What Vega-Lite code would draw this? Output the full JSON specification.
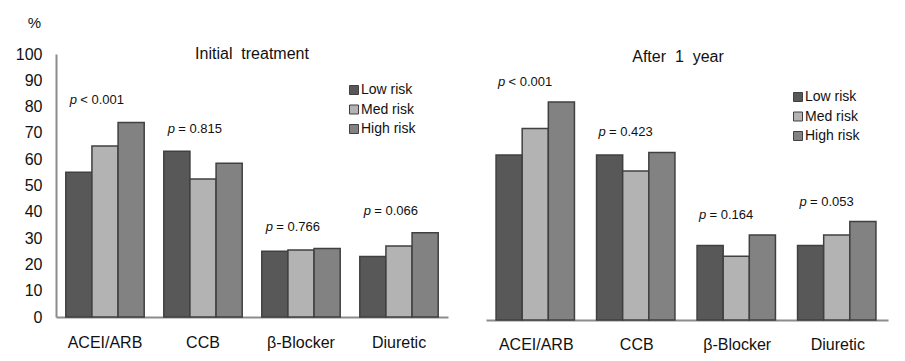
{
  "$schema": "https://vega.github.io/schema/vega-lite/v6.json",
  "background": "white",
  "padding": {"left": 15, "top": 15, "right": 5, "bottom": 5},
  "bounds": "flush",
  "spacing": 38,
  "config": {
    "font": "Liberation Sans",
    "view": {"stroke": null},
    "axis": {"grid": false, "ticks": false, "domainColor": "#8c8c8c", "domainWidth": 2, "labelColor": "#111111", "labelFont": "Liberation Sans"},
    "legend": {"padding": 0}
  },
  "datasets": {
    "init": [
      {"drug": "ACEI/ARB", "risk": "Low risk", "pct": 55, "p": "< 0.001"},
      {"drug": "ACEI/ARB", "risk": "Med risk", "pct": 65, "p": "< 0.001"},
      {"drug": "ACEI/ARB", "risk": "High risk", "pct": 74, "p": "< 0.001"},
      {"drug": "CCB", "risk": "Low risk", "pct": 63, "p": "= 0.815"},
      {"drug": "CCB", "risk": "Med risk", "pct": 52.5, "p": "= 0.815"},
      {"drug": "CCB", "risk": "High risk", "pct": 58.5, "p": "= 0.815"},
      {"drug": "β-Blocker", "risk": "Low risk", "pct": 25, "p": "= 0.766"},
      {"drug": "β-Blocker", "risk": "Med risk", "pct": 25.5, "p": "= 0.766"},
      {"drug": "β-Blocker", "risk": "High risk", "pct": 26, "p": "= 0.766"},
      {"drug": "Diuretic", "risk": "Low risk", "pct": 23, "p": "= 0.066"},
      {"drug": "Diuretic", "risk": "Med risk", "pct": 27, "p": "= 0.066"},
      {"drug": "Diuretic", "risk": "High risk", "pct": 32, "p": "= 0.066"}
    ],
    "year": [
      {"drug": "ACEI/ARB", "risk": "Low risk", "pct": 62, "p": "< 0.001"},
      {"drug": "ACEI/ARB", "risk": "Med risk", "pct": 72, "p": "< 0.001"},
      {"drug": "ACEI/ARB", "risk": "High risk", "pct": 82, "p": "< 0.001"},
      {"drug": "CCB", "risk": "Low risk", "pct": 62, "p": "= 0.423"},
      {"drug": "CCB", "risk": "Med risk", "pct": 56, "p": "= 0.423"},
      {"drug": "CCB", "risk": "High risk", "pct": 63, "p": "= 0.423"},
      {"drug": "β-Blocker", "risk": "Low risk", "pct": 28, "p": "= 0.164"},
      {"drug": "β-Blocker", "risk": "Med risk", "pct": 24, "p": "= 0.164"},
      {"drug": "β-Blocker", "risk": "High risk", "pct": 32, "p": "= 0.164"},
      {"drug": "Diuretic", "risk": "Low risk", "pct": 28, "p": "= 0.053"},
      {"drug": "Diuretic", "risk": "Med risk", "pct": 32, "p": "= 0.053"},
      {"drug": "Diuretic", "risk": "High risk", "pct": 37, "p": "= 0.053"}
    ]
  },
  "resolve": {"legend": {"color": "independent"}, "scale": {"y": "independent", "x": "independent", "color": "independent"}},
  "hconcat": [
    {
      "width": 392,
      "height": 263,
      "data": {"name": "init"},
      "title": {"text": "Initial\u00a0 treatment", "fontSize": 16, "fontWeight": "normal", "anchor": "middle", "baseline": "alphabetic", "offset": -60, "color": "#111111", "font": "Liberation Sans"},
      "layer": [
        {
          "mark": {"type": "bar", "stroke": "#404040", "strokeWidth": 1.5},
          "encoding": {
            "x": {"field": "drug", "type": "nominal", "sort": ["ACEI/ARB", "CCB", "β-Blocker", "Diuretic"], "scale": {"paddingInner": 0.2, "paddingOuter": 0.1}, "title": null, "axis": {"labelAngle": 0, "labelFontSize": 16, "labelPadding": 17}},
            "xOffset": {"field": "risk", "type": "nominal", "sort": ["Low risk", "Med risk", "High risk"]},
            "y": {"field": "pct", "type": "quantitative", "scale": {"domain": [0, 100]}, "title": "%", "axis": {"values": [0, 10, 20, 30, 40, 50, 60, 70, 80, 90, 100], "labelOverlap": false, "labelFontSize": 16, "labelPadding": 14, "titleAngle": 0, "titleX": -22, "titleY": -32, "titleAlign": "center", "titleBaseline": "middle", "titleFontSize": 15, "titleFontWeight": "normal", "titleColor": "#111111"}},
            "color": {"field": "risk", "type": "nominal", "scale": {"domain": ["Low risk", "Med risk", "High risk"], "range": ["#585858", "#b3b3b3", "#828282"]}, "legend": {"orient": "none", "legendX": 291, "legendY": 29, "title": null, "symbolType": "square", "symbolSize": 81, "symbolStrokeColor": "#404040", "symbolStrokeWidth": 1, "labelFontSize": 14, "labelOffset": 0, "rowPadding": 5.5, "labelColor": "#111111"}}
          }
        },
        {
          "transform": [{"aggregate": [{"op": "max", "field": "pct", "as": "top"}], "groupby": ["drug", "p"]}],
          "mark": {"type": "text", "align": "left", "baseline": "alphabetic", "fontStyle": "italic", "fontSize": 13, "dx": 4, "dy": -18, "color": "#111111"},
          "encoding": {
            "x": {"field": "drug", "type": "nominal", "sort": ["ACEI/ARB", "CCB", "β-Blocker", "Diuretic"], "bandPosition": 0, "title": null, "axis": {"labelAngle": 0, "labelFontSize": 16, "labelPadding": 17}},
            "y": {"field": "top", "type": "quantitative", "title": "%", "axis": {"values": [0, 10, 20, 30, 40, 50, 60, 70, 80, 90, 100], "labelOverlap": false, "labelFontSize": 16, "labelPadding": 14, "titleAngle": 0, "titleX": -22, "titleY": -32, "titleAlign": "center", "titleBaseline": "middle", "titleFontSize": 15, "titleFontWeight": "normal", "titleColor": "#111111"}},
            "text": {"value": "p"}
          }
        },
        {
          "transform": [{"aggregate": [{"op": "max", "field": "pct", "as": "top"}], "groupby": ["drug", "p"]}],
          "mark": {"type": "text", "align": "left", "baseline": "alphabetic", "fontSize": 13, "dx": 14.5, "dy": -18, "color": "#111111"},
          "encoding": {
            "x": {"field": "drug", "type": "nominal", "sort": ["ACEI/ARB", "CCB", "β-Blocker", "Diuretic"], "bandPosition": 0, "title": null, "axis": {"labelAngle": 0, "labelFontSize": 16, "labelPadding": 17}},
            "y": {"field": "top", "type": "quantitative", "title": "%", "axis": {"values": [0, 10, 20, 30, 40, 50, 60, 70, 80, 90, 100], "labelOverlap": false, "labelFontSize": 16, "labelPadding": 14, "titleAngle": 0, "titleX": -22, "titleY": -32, "titleAlign": "center", "titleBaseline": "middle", "titleFontSize": 15, "titleFontWeight": "normal", "titleColor": "#111111"}},
            "text": {"field": "p"}
          }
        }
      ]
    },
    {
      "width": 402,
      "height": 266,
      "data": {"name": "year"},
      "title": {"text": "After\u00a0 1\u00a0 year", "fontSize": 16, "fontWeight": "normal", "anchor": "middle", "baseline": "alphabetic", "offset": -24, "dx": -9, "color": "#111111", "font": "Liberation Sans"},
      "layer": [
        {
          "mark": {"type": "bar", "stroke": "#404040", "strokeWidth": 1.5},
          "encoding": {
            "x": {"field": "drug", "type": "nominal", "sort": ["ACEI/ARB", "CCB", "β-Blocker", "Diuretic"], "scale": {"paddingInner": 0.2, "paddingOuter": 0.1}, "title": null, "axis": {"labelAngle": 0, "labelFontSize": 16, "labelPadding": 16}},
            "xOffset": {"field": "risk", "type": "nominal", "sort": ["Low risk", "Med risk", "High risk"]},
            "y": {"field": "pct", "type": "quantitative", "scale": {"domain": [0, 100]}, "axis": null},
            "color": {"field": "risk", "type": "nominal", "scale": {"domain": ["Low risk", "Med risk", "High risk"], "range": ["#585858", "#b3b3b3", "#828282"]}, "legend": {"orient": "none", "legendX": 305, "legendY": 36, "title": null, "symbolType": "square", "symbolSize": 81, "symbolStrokeColor": "#404040", "symbolStrokeWidth": 1, "labelFontSize": 14, "labelOffset": 0, "rowPadding": 5.5, "labelColor": "#111111"}}
          }
        },
        {
          "transform": [{"aggregate": [{"op": "max", "field": "pct", "as": "top"}], "groupby": ["drug", "p"]}],
          "mark": {"type": "text", "align": "left", "baseline": "alphabetic", "fontStyle": "italic", "fontSize": 13, "dx": 2, "dy": -16, "color": "#111111"},
          "encoding": {
            "x": {"field": "drug", "type": "nominal", "sort": ["ACEI/ARB", "CCB", "β-Blocker", "Diuretic"], "bandPosition": 0, "title": null, "axis": {"labelAngle": 0, "labelFontSize": 16, "labelPadding": 16}},
            "y": {"field": "top", "type": "quantitative", "axis": null},
            "text": {"value": "p"}
          }
        },
        {
          "transform": [{"aggregate": [{"op": "max", "field": "pct", "as": "top"}], "groupby": ["drug", "p"]}],
          "mark": {"type": "text", "align": "left", "baseline": "alphabetic", "fontSize": 13, "dx": 12.5, "dy": -16, "color": "#111111"},
          "encoding": {
            "x": {"field": "drug", "type": "nominal", "sort": ["ACEI/ARB", "CCB", "β-Blocker", "Diuretic"], "bandPosition": 0, "title": null, "axis": {"labelAngle": 0, "labelFontSize": 16, "labelPadding": 16}},
            "y": {"field": "top", "type": "quantitative", "axis": null},
            "text": {"field": "p"}
          }
        }
      ]
    }
  ]
}
